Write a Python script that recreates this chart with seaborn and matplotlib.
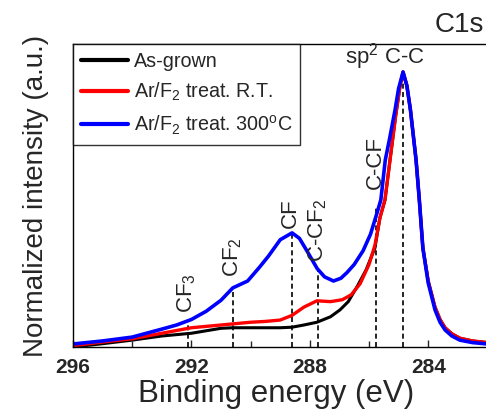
import matplotlib
matplotlib.use("Agg")
import matplotlib.pyplot as plt
import seaborn as sns
import pandas as pd

# ---- data ----
blue_E = [296.0, 295.0, 294.0, 293.0, 292.5, 292.0, 291.5, 291.0, 290.6, 290.1, 289.7, 289.4,
          289.0, 288.6, 288.35, 288.1, 287.75, 287.5, 287.2, 286.95, 286.75, 286.5, 286.2,
          285.95, 285.75, 285.6, 285.45, 285.3, 285.12, 285.0, 284.85, 284.72, 284.6, 284.41,
          284.3, 284.18, 284.0, 283.77, 283.6, 283.43, 283.2, 282.93, 282.5, 282.0]
blue_I = [0.011, 0.022, 0.036, 0.065, 0.08, 0.10, 0.13, 0.17, 0.215, 0.24, 0.29, 0.33,
          0.39, 0.415, 0.395, 0.35, 0.285, 0.255, 0.24, 0.25, 0.27, 0.30, 0.35,
          0.41, 0.48, 0.535, 0.68, 0.76, 0.862, 0.94, 1.0, 0.95, 0.862, 0.68,
          0.535, 0.36, 0.233, 0.135, 0.09, 0.062, 0.04, 0.025, 0.016, 0.011]

red_E = [296.0, 295.0, 294.0, 293.0, 292.0, 291.0, 290.6, 290.0, 289.5, 289.0, 288.6, 288.2,
         287.76, 287.3, 286.9, 286.6, 286.3, 286.0, 285.8, 285.63, 285.46, 285.29, 285.1,
         284.95, 284.85, 284.72, 284.6, 284.41, 284.3, 284.18, 284.0, 283.77, 283.6, 283.43,
         283.2, 282.93, 282.5, 282.0]
red_I = [0.005, 0.018, 0.03, 0.05, 0.07, 0.08, 0.084, 0.09, 0.093, 0.098, 0.115, 0.145,
         0.168, 0.165, 0.172, 0.19, 0.23, 0.30, 0.37, 0.47, 0.535, 0.68, 0.84,
         0.95, 1.0, 0.95, 0.862, 0.68, 0.535, 0.36, 0.24, 0.145, 0.10, 0.07,
         0.048, 0.032, 0.022, 0.016]

black_E = [296.0, 295.0, 294.0, 293.0, 292.0, 291.0, 290.6, 290.0, 289.0, 288.6, 288.2, 287.76,
           287.3, 286.98, 286.7, 286.4, 286.1, 285.8, 285.63, 285.46, 285.29, 285.1, 284.95,
           284.85, 284.72, 284.6, 284.41, 284.3, 284.18, 284.0, 283.77, 283.6, 283.43, 283.2,
           282.93, 282.5, 282.0]
black_I = [0.0, 0.012, 0.025, 0.04, 0.05, 0.068, 0.07, 0.07, 0.07, 0.072, 0.08, 0.09,
           0.11, 0.135, 0.165, 0.22, 0.28, 0.36, 0.47, 0.535, 0.68, 0.84, 0.95,
           1.0, 0.95, 0.862, 0.68, 0.535, 0.36, 0.24, 0.145, 0.10, 0.07, 0.048,
           0.032, 0.022, 0.016]

series_labels = ["As-grown", "Ar/F$_2$ treat. R.T.", "Ar/F$_2$ treat. 300$^\\mathrm{o}$C"]
series_colors = ["#000000", "#ff0000", "#0000ff"]

peak_names = ["CF$_3$", "CF$_2$", "CF", "C-CF$_2$", "C-CF", "sp$^2$ C-C"]
peak_E = [292.1, 290.6, 288.6, 287.72, 285.76, 284.85]
peak_top = [0.10, 0.215, 0.415, 0.28, 0.51, 1.0]

xticks = [296, 292, 288, 284]
xminor = [294, 290, 286]

# ---- style ----
sns.set_style("ticks")
plt.rcParams["font.family"] = ["Liberation Sans", "DejaVu Sans"]
plt.rcParams["mathtext.fontset"] = "custom"
plt.rcParams["mathtext.rm"] = "Liberation Sans"
plt.rcParams["mathtext.it"] = "Liberation Sans:italic"
plt.rcParams["mathtext.bf"] = "Liberation Sans:bold"

fig = plt.figure(figsize=(4.86, 4.11), dpi=100)
W, H = 486, 411
x0, x1, ytop, ybot = 73, 492, 44, 347
ax = fig.add_axes([x0 / W, (H - ybot) / H, (x1 - x0) / W, (ybot - ytop) / H])

for E, I, lab, col, lw in [(black_E, black_I, series_labels[0], series_colors[0], 2.2),
                           (red_E, red_I, series_labels[1], series_colors[1], 2.4),
                           (blue_E, blue_I, series_labels[2], series_colors[2], 2.6)]:
    df = pd.DataFrame({"E": E, "I": I})
    sns.lineplot(data=df, x="E", y="I", color=col, lw=lw, sort=False,
                 estimator=None, label=lab, ax=ax)

for e, t in zip(peak_E, peak_top):
    ax.plot([e, e], [0, t], ls=(0, (3, 2)), color="black", lw=1.2, zorder=1)

# labels
lab_pos = [(292.15, 0.122, 90), (290.6, 0.255, 90), (288.67, 0.432, 90),
           (287.72, 0.31, 90), (285.8, 0.575, 90), (285.46, 1.0, 0)]
for name, (x, y, rot) in zip(peak_names, lab_pos):
    ax.text(x, y, name, rotation=rot, ha="center", va="bottom", fontsize=16)

ax.set_xlim(296, 296 - (x1 - x0) / 29.6)
ax.set_ylim(0, (ybot - ytop) / 275)
ax.set_xticks(xticks)
ax.set_xticklabels([str(t) for t in xticks], fontweight="bold", fontsize=15)
ax.set_xticks(xminor, minor=True)
ax.set_yticks([])
ax.tick_params(axis="x", which="major", direction="in", length=5, width=1, pad=8)
ax.tick_params(axis="x", which="minor", direction="in", length=4, width=1)
for s in ax.spines.values():
    s.set_color("black")
    s.set_linewidth(1.0)
ax.spines["right"].set_visible(False)

ax.set_xlabel("Binding energy (eV)", fontsize=22.5)
ax.xaxis.set_label_coords((276.5 - x0) / (x1 - x0), (ybot - 379) / (ybot - ytop))
ax.set_ylabel("Normalized intensity (a.u.)", fontsize=20, labelpad=17)

leg = ax.legend(loc="upper left", bbox_to_anchor=(0, 1), borderaxespad=0,
                fontsize=14.2, handlelength=2.35, handletextpad=0.3,
                labelspacing=0.5, frameon=True, fancybox=False,
                borderpad=0.42)
leg.get_frame().set_edgecolor("black")
leg.get_frame().set_linewidth(1.0)
for h in leg.get_lines():
    h.set_linewidth(3)

fig.text(0.995, 1 - 25 / H, "C1s", ha="right", va="center", fontsize=20)

fig.savefig("out.png", dpi=100)
